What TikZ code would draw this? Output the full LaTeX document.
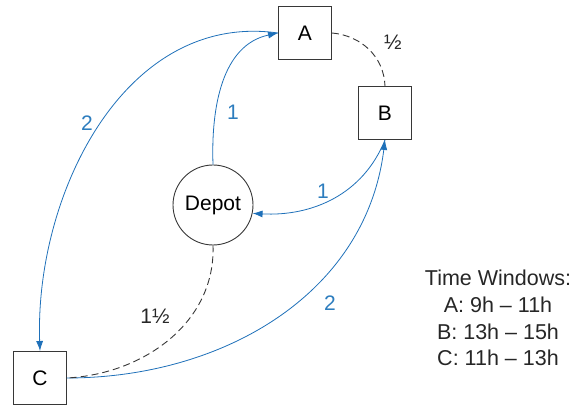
\documentclass[tikz,border=0pt]{standalone}
\usepackage{fontspec}
\setmainfont{Liberation Sans}
\usepackage{xcolor}
\usetikzlibrary{arrows.meta,positioning}

\definecolor{routeblue}{RGB}{30,112,185}
\definecolor{labelblue}{RGB}{45,125,190}
\definecolor{edgegray}{RGB}{55,55,55}

\tikzset{
  customer/.style={draw=edgegray, line width=0.9pt, minimum width=53pt, minimum height=53pt, font=\fontsize{21}{25}\selectfont},
  depot/.style={circle, draw=edgegray, line width=0.9pt, minimum size=80pt, inner sep=0pt, font=\fontsize{21}{25}\selectfont},
  route/.style={routeblue, line width=0.8pt, -{Latex[length=10pt,width=7pt]}},
  unused/.style={edgegray, line width=0.9pt, dash pattern=on 7pt off 4pt},
  cost/.style={labelblue, font=\fontsize{21}{25}\selectfont},
  dcost/.style={black!85, font=\fontsize{21}{25}\selectfont}
}

\begin{document}
\begin{tikzpicture}[x=1pt, y=1pt]
  \useasboundingbox (0,0) rectangle (574,409);

  % customers and depot
  \node[customer] (A) at (305,376) {A};
  \node[customer] (B) at (385,296) {B};
  \node[customer] (C) at (40,31) {C};
  \node[depot] (D) at (213,204) {Depot};

  % route of the vehicle
  \draw[route] (D.north) to[out=92, in=192] (A.west);
  \draw[route] (A.west) to[out=172, in=92] (C.north);
  \draw[route] (C.east) to[out=0, in=-97] (B.south);
  \draw[route] (B.south) to[out=-112, in=-3] (D.-12);

  % links not taken
  \draw[unused] (A.east) to[out=-5, in=92] (B.north);
  \draw[unused] (D.south) to[out=-88, in=3] (C.east);

  % travel times
  \node[cost] (c1) at (233,297) {1};
  \node[cost] (c2) at (87,286) {2};
  \node[cost] (c3) at (323,218) {1};
  \node[cost] (c4) at (330,106) {2};
  \node[dcost] (c5) at (393,367) {½};
  \node[dcost] (c6) at (155,93) {1½};

  % time windows
  \node[align=center, font=\fontsize{21.5}{26.7}\selectfont, black!85] (tw) at (498,91)
    {Time Windows:\\A: 9h -- 11h\\B: 13h -- 15h\\C: 11h -- 13h};
\end{tikzpicture}
\end{document}
